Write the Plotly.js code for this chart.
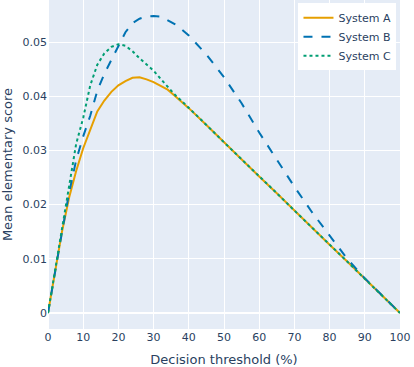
<!DOCTYPE html>
<html>
<head>
<meta charset="utf-8">
<script src="https://cdn.plot.ly/plotly-3.0.1.min.js"></script>
<style>
  html, body { margin: 0; padding: 0; background: #fff; }
  #chart { width: 414px; height: 367px; }
</style>
</head>
<body>
<div id="chart"></div>
<script>
// decision thresholds (%)
var thresholds = [0, 2, 4, 6, 8, 10, 12, 14, 16, 18, 20, 22, 24, 26, 28, 30, 32, 34, 36, 38, 40,
    45, 50, 55, 60, 65, 70, 75, 80, 85, 90, 95, 100];

var systemA = [0, 0.0076, 0.0151, 0.0213, 0.0262, 0.0304, 0.0339, 0.0372, 0.0392, 0.0408, 0.0420,
    0.0428, 0.0434, 0.0435, 0.0431, 0.0426, 0.0419, 0.0412, 0.0401, 0.0390, 0.0378,
    0.0347, 0.0315, 0.0284, 0.0252, 0.0221, 0.0189, 0.0158, 0.0126, 0.0095, 0.0063, 0.0032, 0];

var systemB = [0, 0.0078, 0.0150, 0.0222, 0.0282, 0.0326, 0.0364, 0.0410, 0.0441, 0.0467, 0.0494,
    0.0518, 0.0535, 0.0543, 0.0547, 0.0548, 0.0547, 0.0540, 0.0533, 0.0523, 0.0512,
    0.0477, 0.0435, 0.0387, 0.0333, 0.0283, 0.0233, 0.0186, 0.0143, 0.0100, 0.0064, 0.0032, 0];

var systemC = [0, 0.0080, 0.0158, 0.0236, 0.0312, 0.0360, 0.0420, 0.0458, 0.0479, 0.0491, 0.0496,
    0.0493, 0.0483, 0.0470, 0.0458, 0.0447, 0.0432, 0.0417, 0.0403, 0.0391, 0.0378,
    0.0347, 0.0315, 0.0284, 0.0252, 0.0221, 0.0189, 0.0158, 0.0126, 0.0095, 0.0063, 0.0032, 0];

var names = ["System A", "System B", "System C"];
var colors = ["#E69F00", "#0072B2", "#009E73"];
var dashes = ["solid", "dash", "dot"];
var series = [systemA, systemB, systemC];

var data = series.map(function(ys, i) {
    return {
        x: thresholds,
        y: ys,
        name: names[i],
        type: "scatter",
        mode: "lines",
        line: {color: colors[i], width: 2, dash: dashes[i]}
    };
});

var layout = {
    width: 414,
    height: 367,
    margin: {l: 48, r: 14, t: 0, b: 38},
    font: {family: "DejaVu Sans, sans-serif", size: 11, color: "#2a3f5f"},
    paper_bgcolor: "#fff",
    plot_bgcolor: "#E5ECF6",
    xaxis: {
        title: {text: "Decision threshold (%)", font: {size: 13}, standoff: 16},
        range: [0, 100],
        dtick: 10,
        gridcolor: "#fff",
        zerolinecolor: "#fff",
        zerolinewidth: 2
    },
    yaxis: {
        title: {text: "Mean elementary score", font: {size: 13}, standoff: 6},
        range: [-0.00295, 0.05775],
        dtick: 0.01,
        gridcolor: "#fff",
        zerolinecolor: "#fff",
        zerolinewidth: 2
    },
    legend: {
        x: 0.99, y: 0.99, xanchor: "right", yanchor: "top",
        bgcolor: "#fff",
        font: {size: 11}
    },
    showlegend: true
};

Plotly.newPlot("chart", data, layout, {displayModeBar: false});
</script>
</body>
</html>
